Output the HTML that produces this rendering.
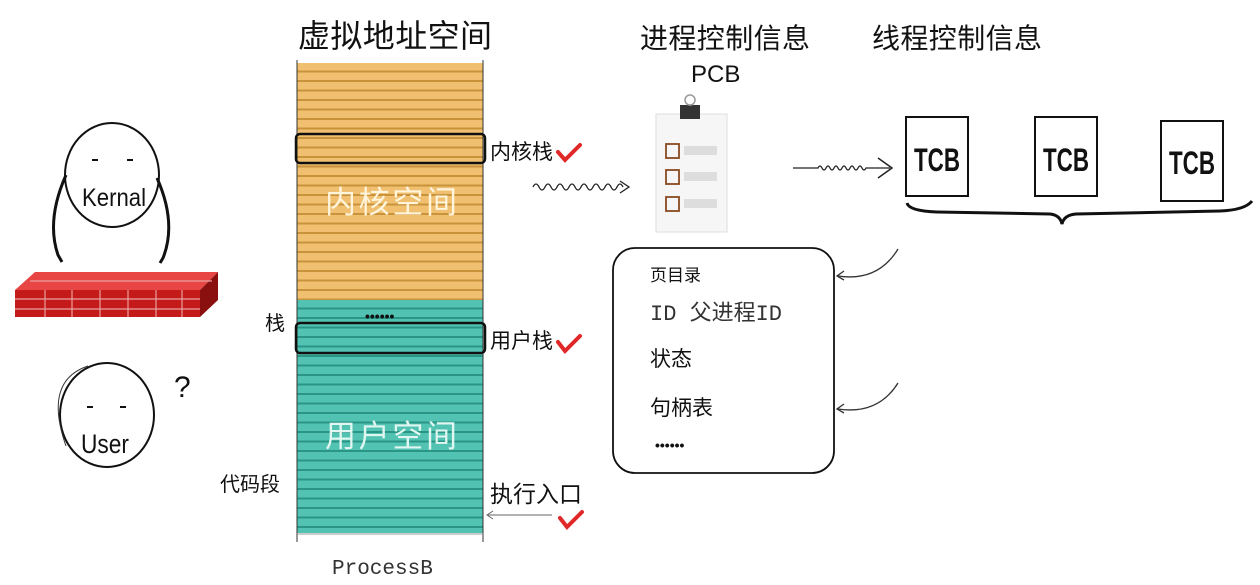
<!DOCTYPE html>
<html><head><meta charset="utf-8"><style>
html,body{margin:0;padding:0;background:#fff;width:1260px;height:585px;overflow:hidden}
svg{display:block}
text{font-family:"Liberation Sans","Noto Sans CJK SC",sans-serif}
.mono{font-family:"Liberation Mono","Noto Sans CJK SC",monospace}
</style></head><body>
<svg width="1260" height="585" viewBox="0 0 1260 585" xmlns="http://www.w3.org/2000/svg">
<defs>
<pattern id="po" x="0" y="63" width="10" height="9.5" patternUnits="userSpaceOnUse">
<rect width="10" height="9.5" fill="#f0c070"/><rect y="7.5" width="10" height="2" fill="#c8933a"/></pattern>
<pattern id="pt" x="0" y="300" width="10" height="9.5" patternUnits="userSpaceOnUse">
<rect width="10" height="9.5" fill="#52c2b2"/><rect y="7.5" width="10" height="2" fill="#2a9585"/></pattern>
</defs>
<!-- titles -->
<text x="298" y="47" font-size="32" fill="#111" textLength="194">虚拟地址空间</text>
<text x="640" y="48" font-size="28" fill="#111" textLength="170">进程控制信息</text>
<text x="691" y="82" font-size="24" fill="#111">PCB</text>
<text x="872" y="48" font-size="28" fill="#111" textLength="170">线程控制信息</text>
<!-- column -->
<rect x="297" y="63" width="186" height="237" fill="url(#po)"/>
<rect x="297" y="300" width="186" height="233" fill="url(#pt)"/>
<line x1="297" y1="60" x2="297" y2="542" stroke="#333" stroke-width="1"/>
<line x1="483" y1="60" x2="483" y2="542" stroke="#333" stroke-width="1"/>
<line x1="297" y1="534" x2="483" y2="534" stroke="#999"/>
<rect x="296" y="134" width="189" height="29" rx="4" fill="none" stroke="#111" stroke-width="2.5"/>
<rect x="296" y="323" width="189" height="30" rx="4" fill="none" stroke="#111" stroke-width="2.5"/>
<text x="325" y="213" font-size="31" fill="#fff4dc" textLength="132">内核空间</text>
<text x="325" y="447" font-size="31" fill="#e0f6f0" textLength="132">用户空间</text>
<text x="365" y="321" font-size="14" fill="#111" font-weight="bold">••••••</text>
<text x="490" y="159" font-size="21" fill="#111">内核栈</text>
<text x="490" y="348" font-size="21" fill="#111">用户栈</text>
<text x="265" y="330" font-size="20" fill="#111">栈</text>
<text x="220" y="491" font-size="20" fill="#111">代码段</text>
<text x="490" y="502" font-size="23" fill="#111">执行入口</text>
<text x="332" y="574" font-size="21" fill="#333" class="mono">ProcessB</text>
<!-- checks -->
<g stroke="#e02828" stroke-width="4" fill="none" stroke-linecap="round">
<path d="M558 152 L565 160 L580 145"/>
<path d="M558 342 L565 351 L580 336"/>
<path d="M560 518 L567 527 L582 512"/>
</g>
<!-- arrows -->
<line x1="488" y1="515" x2="552" y2="515" stroke="#666"/>
<path d="M493 511 L487 515 L493 519" stroke="#666" fill="none"/>
<path d="M533 187 q3 -6 6 0 t6 0 t6 0 t6 0 t6 0 t6 0 t6 0 t6 0 t6 0 t6 0 t6 0 t6 0 t6 0 t6 0 t6 0" stroke="#222" fill="none" stroke-width="1.3"/>
<path d="M620 181 L629 187 L620 193" stroke="#222" fill="none" stroke-width="1.3"/>
<path d="M793 168 L818 168 q2 -4 4 0 t4 0 t4 0 t4 0 t4 0 t4 0 t4 0 t4 0 t4 0 t4 0 t4 0 t4 0 L890 168" stroke="#222" fill="none" stroke-width="1.3"/>
<path d="M878 158 L892 168 L878 178" stroke="#222" fill="none" stroke-width="1.5"/>
<!-- clipboard -->
<rect x="656" y="114" width="71" height="118" fill="#f6f6f6" stroke="#ddd"/>
<rect x="680" y="105" width="20" height="14" fill="#333"/>
<circle cx="690" cy="100" r="5" fill="none" stroke="#999" stroke-width="1.5"/>
<g fill="none" stroke="#8a4a20" stroke-width="1.8">
<rect x="666" y="144" width="13" height="14"/><rect x="666" y="170" width="13" height="14"/><rect x="666" y="197" width="13" height="14"/></g>
<g fill="#ddd"><rect x="684" y="146" width="33" height="9"/><rect x="684" y="172" width="33" height="9"/><rect x="684" y="199" width="33" height="9"/></g>
<!-- TCBs -->
<g fill="#fff" stroke="#111" stroke-width="2">
<rect x="906" y="117" width="62" height="79"/>
<rect x="1035" y="117" width="62" height="79"/>
<rect x="1161" y="121" width="62" height="80"/></g>
<g font-weight="bold">
<text x="914" y="171" font-size="32" fill="#111" textLength="46" lengthAdjust="spacingAndGlyphs">TCB</text>
<text x="1043" y="171" font-size="32" fill="#111" textLength="46" lengthAdjust="spacingAndGlyphs">TCB</text>
<text x="1169" y="174" font-size="32" fill="#111" textLength="46" lengthAdjust="spacingAndGlyphs">TCB</text></g>
<path d="M907 203 q2 8 30 9 L1050 214 q10 1 12 10 q2 -9 14 -10 L1220 211 q25 -1 32 -10" fill="none" stroke="#111" stroke-width="3"/>
<!-- pcb box -->
<rect x="613" y="248" width="221" height="225" rx="22" fill="#fff" stroke="#111" stroke-width="1.8"/>
<text x="650" y="281" font-size="17" fill="#111">页目录</text>
<text x="650" y="320" font-size="22" fill="#333" class="mono">ID 父进程ID</text>
<text x="650" y="366" font-size="21" fill="#111">状态</text>
<text x="650" y="415" font-size="21" fill="#111">句柄表</text>
<text x="655" y="450" font-size="14" fill="#111" font-weight="bold">••••••</text>
<path d="M838 276 q40 6 60 -27" fill="none" stroke="#333" stroke-width="1.3"/>
<path d="M844 271 L837 276 L844 280" fill="none" stroke="#333" stroke-width="1.3"/>
<path d="M838 409 q40 6 60 -26" fill="none" stroke="#333" stroke-width="1.3"/>
<path d="M844 404 L837 409 L844 413" fill="none" stroke="#333" stroke-width="1.3"/>
<!-- kernel figure -->
<ellipse cx="112" cy="175" rx="47" ry="52" fill="#fff" stroke="#111" stroke-width="2"/>
<line x1="92" y1="160" x2="98" y2="160" stroke="#111" stroke-width="2"/>
<line x1="127" y1="160" x2="133" y2="160" stroke="#111" stroke-width="2"/>
<text x="82" y="206" font-size="25" fill="#111" textLength="64" lengthAdjust="spacingAndGlyphs">Kernal</text>
<path d="M66 175 q-20 45 -8 80 L62 262 M157 178 q20 45 6 80 L160 263" fill="none" stroke="#111" stroke-width="3"/>
<!-- wall -->
<polygon points="15,290 35,272 218,272 200,290" fill="#e84545"/>
<polygon points="200,290 218,272 218,300 200,317" fill="#8a1010"/>
<rect x="15" y="290" width="185" height="27" fill="#c51a1a"/>
<g stroke="#e8a0a0" stroke-width="1.2">
<line x1="15" y1="299" x2="200" y2="299"/><line x1="15" y1="309" x2="200" y2="309"/>
<line x1="45" y1="290" x2="45" y2="317"/><line x1="72" y1="290" x2="72" y2="317"/><line x1="100" y1="290" x2="100" y2="317"/><line x1="128" y1="290" x2="128" y2="317"/><line x1="156" y1="290" x2="156" y2="317"/><line x1="182" y1="290" x2="182" y2="317"/>
<line x1="30" y1="281" x2="212" y2="281"/></g>
<!-- user figure -->
<ellipse cx="107" cy="415" rx="47" ry="52" fill="#fff" stroke="#111" stroke-width="2"/>
<path d="M88 366 q-45 15 -22 80" fill="none" stroke="#333"/>
<line x1="87" y1="407" x2="93" y2="407" stroke="#111" stroke-width="2"/>
<line x1="120" y1="407" x2="126" y2="407" stroke="#111" stroke-width="2"/>
<text x="81" y="453" font-size="27" fill="#111" textLength="48" lengthAdjust="spacingAndGlyphs">User</text>
<text x="174" y="397" font-size="30" fill="#111">?</text>
</svg>
</body></html>
